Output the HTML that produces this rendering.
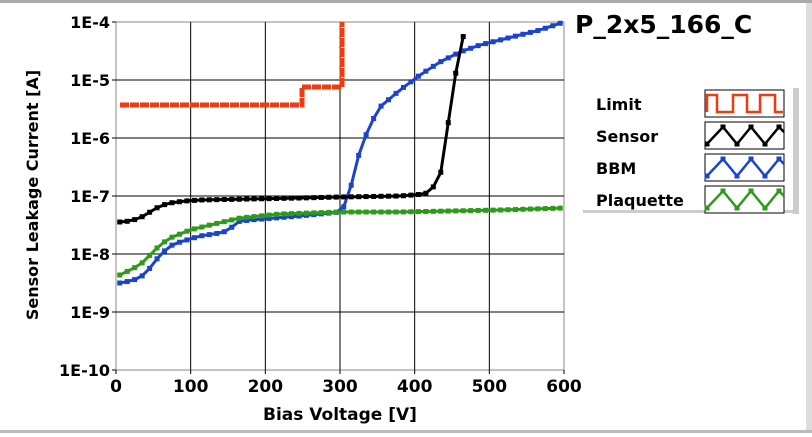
<!DOCTYPE html><html><head><style>body{margin:0;background:#fff;width:812px;height:433px;overflow:hidden;font-family:"DejaVu Sans","Liberation Sans",sans-serif}</style></head><body>
<svg id="s" width="812" height="433" xmlns="http://www.w3.org/2000/svg" font-family="DejaVu Sans, Liberation Sans, sans-serif" font-weight="bold">
<rect x="0" y="0" width="812" height="3" fill="#aaa"/>
<rect x="0" y="430" width="812" height="3" fill="#bbb"/>
<rect x="806" y="3" width="6" height="427" fill="#ddd"/>
<g id="grid" stroke="#000" stroke-width="1"></g>
<text x="575" y="33" font-size="25" fill="#000">P_2x5_166_C</text>
<rect x="793" y="88" width="6" height="126" fill="#ccc"/>
<rect x="583" y="210" width="216" height="3" fill="#ccc"/>
<g font-size="16" fill="#000">
<text x="596" y="110">Limit</text><text x="596" y="142">Sensor</text><text x="596" y="174">BBM</text><text x="596" y="206">Plaquette</text></g>
<g id="leg"></g>
<text x="340" y="420" font-size="17" text-anchor="middle">Bias Voltage [V]</text>
<text transform="translate(38,195) rotate(-90)" font-size="16" text-anchor="middle">Sensor Leakage Current [A]</text>
<g id="data"></g>
</svg>
<script>
const NS="http://www.w3.org/2000/svg",s=document.getElementById('s');
function el(p,t,a){const e=document.createElementNS(NS,t);for(let k in a)e.setAttribute(k,a[k]);p.appendChild(e);return e;}
const g=document.getElementById('grid');
const X0=116,X1=564,Y0=22,D=58;
el(g,'rect',{x:X0,y:Y0,width:X1-X0,height:6*D,fill:'none',stroke:'#888'});
for(let i=0;i<=6;i++){let x=X0+i*(X1-X0)/6;if(i>0&&i<6)el(g,'line',{x1:x,y1:Y0,x2:x,y2:Y0+6*D});el(g,'line',{x1:x,y1:Y0+6*D,x2:x,y2:Y0+6*D+4});
 let t=el(s,'text',{x:x,y:392,'font-size':17,'text-anchor':'middle','font-weight':'bold'});t.textContent=i*100;}
for(let i=0;i<=6;i++){let y=Y0+i*D;if(i>0&&i<6)el(g,'line',{x1:X0,y1:y,x2:X1,y2:y});el(g,'line',{x1:X0-4,y1:y,x2:X0,y2:y});
 let t=el(s,'text',{x:X0-6,y:y+6,'font-size':16,'text-anchor':'end','font-weight':'bold'});t.textContent='1E-'+(4+i);}
const d=document.getElementById('data');
function interp(pts,x){if(x<=pts[0][0])return pts[0][1];for(let i=0;i<pts.length-1;i++){if(x>=pts[i][0]&&x<=pts[i+1][0]){let t=(x-pts[i][0])/(pts[i+1][0]-pts[i][0]);return pts[i][1]+t*(pts[i+1][1]-pts[i][1]);}}return pts[pts.length-1][1];}
function series(pts,col,xmax){
 let xs=[];for(let v=5;;v+=10){let x=X0+v*(X1-X0)/600;if(x>xmax)break;xs.push(x);}
 let p=xs.map(x=>[x,interp(pts,x)]);
 el(d,'polyline',{points:p.map(q=>q.join(',')).join(' '),fill:'none',stroke:col,'stroke-width':3});
 p.forEach(q=>el(d,'rect',{x:q[0]-2.5,y:q[1]-2.5,width:5,height:5,fill:col}));}
series([[120,283],[130,281],[140,278],[150,268],[160,255],[170,246],[180,242],[190,239],[200,236],[220,233],[230,230],[235,222],[250,220],[300,216],[320,214],[340,212],[345,205],[350,190],[355,170],[360,150],[370,125],[380,107],[400,90],[420,75],[440,62],[460,52],[480,45],[500,40],[520,35],[540,30],[564,22]],'#1a44d0',566);
series([[120,275],[130,270],[140,265],[150,255],[160,245],[170,238],[190,230],[210,225],[240,218],[280,214],[340,212],[400,212],[450,211],[500,210],[564,208]],'#2e9a1a',566);
series([[120,222],[130,221],[140,218],[150,212],[160,206],[170,203],[185,201],[200,200],[300,198],[340,197],[400,196],[425,194],[432,188],[438,183],[444,160],[448,125],[452,90],[456,72],[461,45],[467,22]],'#000',468);
el(d,'polyline',{points:'120,105 302,105 302,87 342,87 342,22',fill:'none',stroke:'#f03a10','stroke-width':5,'stroke-dasharray':'9,1'});
const L=document.getElementById('leg');
const cols=['#f03a10','#000','#1a44d0','#2e9a1a'];
for(let i=0;i<4;i++){let y=90+i*32;el(L,'rect',{x:705,y:y,width:79,height:27,fill:'#fff',stroke:'#000'});
 let c=cols[i];
 if(i==0){el(L,'polyline',{points:`707,${y+22} 707,${y+5} 717,${y+5} 717,${y+22} 733,${y+22} 733,${y+5} 747,${y+5} 747,${y+22} 760,${y+22} 760,${y+5} 775,${y+5} 775,${y+22} 783,${y+22}`,fill:'none',stroke:c,'stroke-width':2.5});}
 else{let pts=[[707,y+22],[723,y+5],[737,y+22],[751,y+5],[765,y+22],[779,y+5],[784,y+10]];
  el(L,'polyline',{points:pts.map(q=>q.join(',')).join(' '),fill:'none',stroke:c,'stroke-width':2.5});
  pts.slice(0,6).forEach(q=>el(L,'rect',{x:q[0]-2.5,y:q[1]-2.5,width:5,height:5,fill:c}));}}
</script></body></html>
